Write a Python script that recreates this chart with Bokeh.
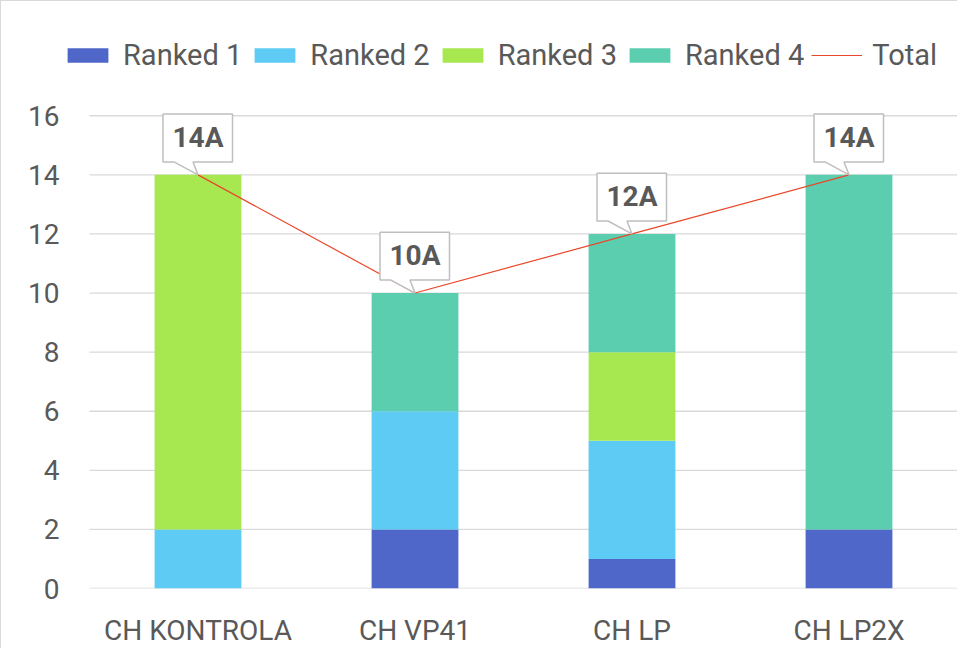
from bokeh.plotting import figure
from bokeh.models import (ColumnDataSource, Range1d, FixedTicker,
                          Legend, LegendItem)
from bokeh.core.properties import value
from bokeh.embed import file_html
from bokeh.resources import INLINE

# ---- data ----
categories = ["CH KONTROLA", "CH VP41", "CH LP", "CH LP2X"]
ranked1 = [0, 2, 1, 2]
ranked2 = [2, 4, 4, 0]
ranked3 = [12, 0, 3, 0]
ranked4 = [0, 4, 4, 12]
totals = [14, 10, 12, 14]
total_labels = ["14A", "10A", "12A", "14A"]
y_ticks = [0, 2, 4, 6, 8, 10, 12, 14, 16]
series_names = ["Ranked 1", "Ranked 2", "Ranked 3", "Ranked 4"]
series_colors = ["#4F67C8", "#5DCBF3", "#A7E850", "#5BCEB0"]
total_color = "#E9472A"
text_color = "#595959"
grid_color = "#D9D9D9"
FONT = "Roboto"

# ---- layout constants (pixels) ----
W, H = 957, 648
MB_L, MB_R, MB_T, MB_B = 66, 1, 20, 59
GAP_L = 22            # gap between frame left and first category slot
PX_Y = 29.65          # pixels per y unit
frame_w = W - MB_L - MB_R
frame_h = H - MB_T - MB_B
n = len(categories)
px_x = (frame_w - GAP_L) / n
x_start = -GAP_L / px_x
y_end = frame_h / PX_Y

xpos = [i + 0.5 for i in range(n)]

src = ColumnDataSource(dict(x=xpos, r1=ranked1, r2=ranked2, r3=ranked3, r4=ranked4))

p = figure(width=W, height=H, output_backend="svg", toolbar_location=None,
           x_range=Range1d(x_start, n), y_range=Range1d(0, y_end),
           min_border_left=MB_L, min_border_right=MB_R,
           min_border_top=MB_T, min_border_bottom=MB_B)
p.outline_line_color = None
p.styles = {"border-left": "1px solid #D9D9D9", "border-top": "1px solid #D9D9D9"}

# horizontal grid lines at the tick values, spanning the category slots
p.segment(x0=[0] * len(y_ticks), x1=[n] * len(y_ticks), y0=y_ticks, y1=y_ticks,
          line_color=grid_color, line_width=1.3)

bars = p.vbar_stack(["r1", "r2", "r3", "r4"], x="x", width=0.4, source=src,
                    color=series_colors, line_color=None)

line = p.line(xpos, totals, line_color=total_color, line_width=1.2)

# callouts
box_l, box_r, box_b, box_t = -35, 34.5, 13, 61
ptr_l, ptr_r = -24, -5
xs, ys = [], []
for xc, t in zip(xpos, totals):
    poly = [(box_l, box_t), (box_r, box_t), (box_r, box_b), (ptr_r, box_b),
            (0, 0), (ptr_l, box_b), (box_l, box_b)]
    xs.append([xc + dx / px_x for dx, dy in poly])
    ys.append([t + dy / PX_Y for dx, dy in poly])
p.patches(xs, ys, fill_color="white", line_color="#BFBFBF", line_width=1.5)
p.text(x=xpos, y=[t + 37.5 / PX_Y for t in totals], text=total_labels,
       text_align="center", text_baseline="middle", text_color=text_color,
       text_font=value(FONT), text_font_style="bold", text_font_size="28px")

# axes
p.xaxis.ticker = FixedTicker(ticks=xpos)
p.xaxis.major_label_overrides = {x: c for x, c in zip(xpos, categories)}
p.xaxis.major_tick_line_color = None
p.xaxis.minor_tick_line_color = None
p.xaxis.axis_line_color = None
p.xaxis.major_label_standoff = 19
p.yaxis.ticker = FixedTicker(ticks=y_ticks)
p.yaxis.major_tick_line_color = None
p.yaxis.minor_tick_line_color = None
p.yaxis.axis_line_color = None
p.yaxis.major_label_standoff = 2
for ax in (p.xaxis, p.yaxis):
    ax.major_label_text_font = FONT
    ax.major_label_text_font_size = "28px"
    ax.major_label_text_color = text_color
p.xgrid.grid_line_color = None
p.ygrid.grid_line_color = None

items = [LegendItem(label=nm, renderers=[r]) for nm, r in zip(series_names, bars)]
items.append(LegendItem(label="Total", renderers=[line]))
legend = Legend(items=items, orientation="horizontal", location=(-5, 516),
                glyph_width=51, glyph_height=18, label_standoff=10, spacing=7,
                padding=0, margin=0,
                label_text_font=FONT, label_text_font_size="29px",
                label_text_color=text_color,
                border_line_color=None, background_fill_alpha=0)
p.add_layout(legend, "center")

open("out.html", "w").write(file_html(p, INLINE))
